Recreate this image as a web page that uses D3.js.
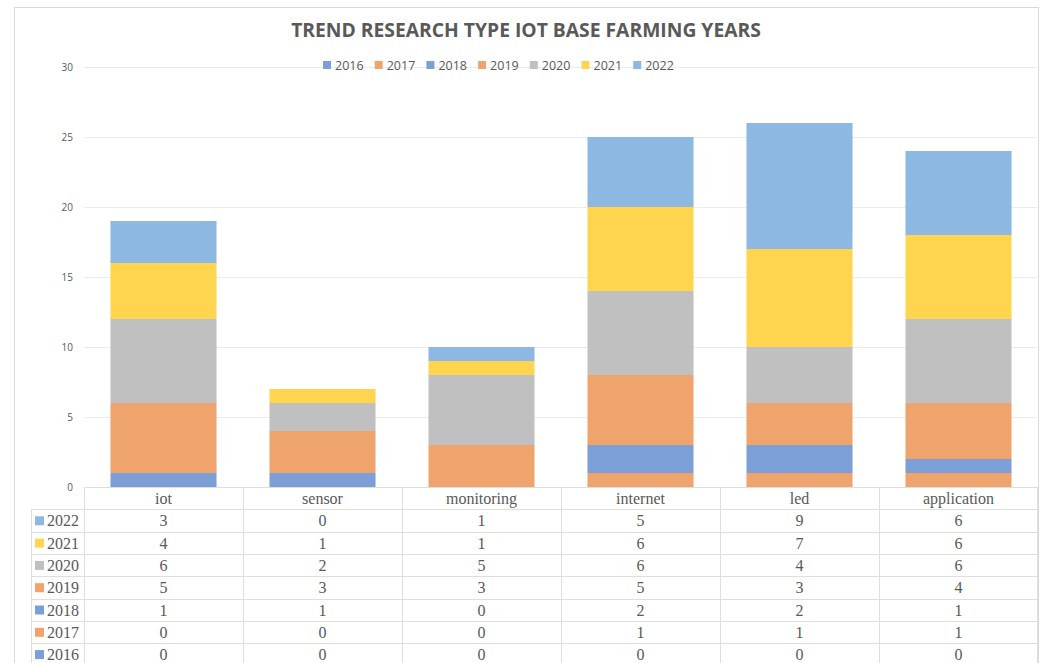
<!DOCTYPE html>
<html>
<head>
<meta charset="utf-8">
<script src="https://cdn.jsdelivr.net/npm/d3@7"></script>
<style>
  body { margin: 0; background: #fff; }
  svg { display: block; }
</style>
</head>
<body>
<div id="chart"></div>
<script>
// Dados do gráfico //
const categories = ["iot", "sensor", "monitoring", "internet", "led", "application"]
const years = ["2016", "2017", "2018", "2019", "2020", "2021", "2022"]
const v2016 = [0, 0, 0, 0, 0, 0]
const v2017 = [0, 0, 0, 1, 1, 1]
const v2018 = [1, 1, 0, 2, 2, 1]
const v2019 = [5, 3, 3, 5, 3, 4]
const v2020 = [6, 2, 5, 6, 4, 6]
const v2021 = [4, 1, 1, 6, 7, 6]
const v2022 = [3, 0, 1, 5, 9, 6]
const yTicks = [0, 5, 10, 15, 20, 25, 30]
const colors = ["#7b9fd6", "#efa46e", "#7b9fd6", "#efa46e", "#c0c0c0", "#ffd44e", "#8db8e2"]

const series = [v2016, v2017, v2018, v2019, v2020, v2021, v2022]

// Monta a tabela para o stack //
const table = categories.map((c, i) => {
  const row = { cat: c }
  years.forEach((y, j) => { row[y] = series[j][i] })
  return row
})

const width = 1043, height = 663
const plotLeft = 84, plotRight = 1038, plotTop = 67, plotBottom = 487
const rowH = 22.3

const svg = d3.select("#chart").append("svg")
  .attr("width", width)
  .attr("height", height)

// Moldura //
svg.append("rect")
  .attr("x", 14.5).attr("y", 7.5)
  .attr("width", 1024).attr("height", 700)
  .attr("fill", "none").attr("stroke", "#d9d9d9")

// Título //
svg.append("text")
  .attr("x", 526).attr("y", 37)
  .attr("text-anchor", "middle")
  .attr("font-family", "Open Sans, sans-serif")
  .attr("font-weight", "bold")
  .attr("font-size", 19.3)
  .attr("fill", "#595959")
  .text("TREND RESEARCH TYPE IOT BASE FARMING YEARS")

const x = d3.scaleBand().domain(categories).range([plotLeft, plotRight]).paddingInner(0.333).paddingOuter(0.1665)
const xCell = d3.scaleBand().domain(categories).range([plotLeft, plotRight])
const y = d3.scaleLinear().domain([0, 30]).range([plotBottom, plotTop])

// Grade //
svg.append("g").selectAll("line")
  .data(yTicks.filter(t => t > 0))
  .join("line")
  .attr("x1", plotLeft).attr("x2", plotRight - 1)
  .attr("y1", d => Math.round(y(d)) + 0.5).attr("y2", d => Math.round(y(d)) + 0.5)
  .attr("stroke", "#ececec")

svg.append("g").selectAll("text")
  .data(yTicks)
  .join("text")
  .attr("x", 73).attr("y", d => y(d) + 4)
  .attr("text-anchor", "end")
  .attr("font-family", "Open Sans, sans-serif")
  .attr("font-size", 10)
  .attr("fill", "#595959")
  .text(d => d)

// Barras empilhadas //
const stack = d3.stack().keys(years)(table)
svg.append("g").selectAll("g")
  .data(stack)
  .join("g")
  .attr("fill", (d, i) => colors[i])
  .selectAll("rect")
  .data(d => d)
  .join("rect")
  .attr("x", d => x(d.data.cat))
  .attr("width", x.bandwidth())
  .attr("y", d => y(d[1]))
  .attr("height", d => y(d[0]) - y(d[1]))

// Tabela de dados //
const lineColor = "#dedede"
const tbl = svg.append("g")
const rowsY = d3.range(years.length + 2).map(i => plotBottom + i * rowH)

// linhas horizontais
tbl.selectAll("line.h")
  .data(rowsY)
  .join("line")
  .attr("class", "h")
  .attr("x1", (d, i) => i < 1 ? plotLeft : 31)
  .attr("x2", plotRight)
  .attr("y1", d => Math.round(d) + 0.5).attr("y2", d => Math.round(d) + 0.5)
  .attr("stroke", lineColor)

// linhas verticais
const vx = categories.map(c => xCell(c)).concat([plotRight - 1])
tbl.selectAll("line.v")
  .data(vx)
  .join("line")
  .attr("class", "v")
  .attr("x1", d => Math.round(d) + 0.5).attr("x2", d => Math.round(d) + 0.5)
  .attr("y1", plotBottom).attr("y2", height)
  .attr("stroke", lineColor)

tbl.append("line")
  .attr("x1", 31.5).attr("x2", 31.5)
  .attr("y1", plotBottom + rowH).attr("y2", height)
  .attr("stroke", lineColor)

const serif = "Liberation Serif, Times New Roman, serif"

tbl.selectAll("text.cat")
  .data(categories)
  .join("text")
  .attr("class", "cat")
  .attr("x", d => xCell(d) + xCell.bandwidth() / 2)
  .attr("y", plotBottom + 17)
  .attr("text-anchor", "middle")
  .attr("font-family", serif)
  .attr("font-size", 16)
  .attr("fill", "#595959")
  .text(d => d)

const revYears = years.slice().reverse()
revYears.forEach((yr, r) => {
  const j = years.indexOf(yr)
  const top = plotBottom + (r + 1) * rowH
  tbl.append("rect")
    .attr("x", 35).attr("y", top + 7)
    .attr("width", 9).attr("height", 9)
    .attr("fill", colors[j])
  tbl.append("text")
    .attr("x", 47).attr("y", top + 17)
    .attr("font-family", serif)
    .attr("font-size", 16)
    .attr("fill", "#595959")
    .text(yr)
  tbl.selectAll(null)
    .data(series[j])
    .join("text")
    .attr("x", (d, i) => xCell(categories[i]) + xCell.bandwidth() / 2)
    .attr("y", top + 17)
    .attr("text-anchor", "middle")
    .attr("font-family", serif)
    .attr("font-size", 16)
    .attr("fill", "#595959")
    .text(d => d)
})

// Legenda //
const legend = svg.append("g")
let lx = 323
years.forEach((yr, i) => {
  legend.append("rect")
    .attr("x", lx).attr("y", 61)
    .attr("width", 8).attr("height", 8)
    .attr("fill", colors[i])
  legend.append("text")
    .attr("x", lx + 12).attr("y", 70)
    .attr("font-family", "Open Sans, sans-serif")
    .attr("font-size", 12.5)
    .attr("fill", "#595959")
    .text(yr)
  lx += 51.7
})
</script>
</body>
</html>
